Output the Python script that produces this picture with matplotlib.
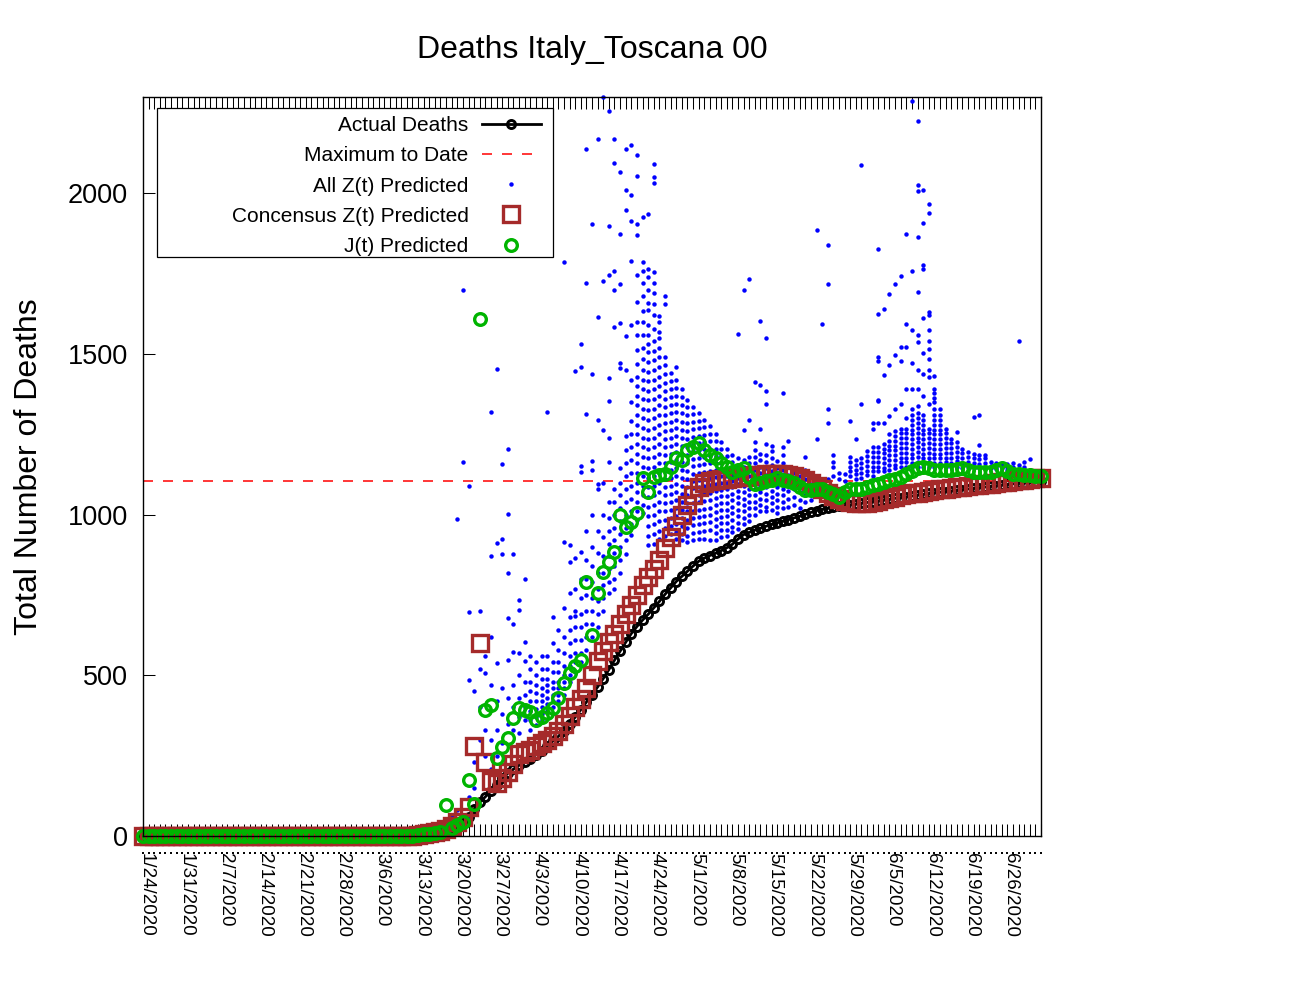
import numpy as np
import matplotlib
matplotlib.use('Agg')
import matplotlib.pyplot as plt
import matplotlib.patches as mpatches
import matplotlib.transforms as mtransforms
from matplotlib.ticker import FixedLocator, MultipleLocator, NullLocator

plt.rcParams['font.family'] = ['Liberation Sans', 'DejaVu Sans']
plt.rcParams['lines.scale_dashes'] = False

# ---------------- data (day 0 = 1/24/2020) ----------------
actual_deaths = [
    0, 0, 0, 0, 0, 0, 0, 0, 0, 0,
    0, 0, 0, 0, 0, 0, 0, 0, 0, 0,
    0, 0, 0, 0, 0, 0, 0, 0, 0, 0,
    0, 0, 0, 0, 0, 0, 0, 0, 0, 0,
    0, 0, 0, 0, 0, 0, 0, 0, 1, 2,
    3, 5, 7, 10, 14, 19, 27, 40, 60, 85,
    105, 122, 140, 160, 180, 195, 208, 220, 231, 241,
    253, 266, 280, 295, 310, 328, 348, 370, 393, 417,
    440, 464, 490, 518, 547, 575, 603, 630, 652, 672,
    690, 710, 730, 752, 772, 792, 808, 824, 840, 855,
    865, 873, 880, 888, 897, 908, 924, 938, 945, 952,
    958, 964, 970, 975, 980, 985, 990, 995, 1001, 1007,
    1013, 1017, 1020, 1023, 1026, 1028, 1031, 1033, 1036, 1038,
    1041, 1043, 1046, 1048, 1051, 1053, 1056, 1058, 1061, 1063,
    1066, 1068, 1070, 1072, 1074, 1076, 1078, 1080, 1082, 1084,
    1086, 1088, 1090, 1092, 1094, 1096, 1098, 1100, 1101, 1103,
    1104,
]

consensus_z = [
    0, 0, 0, 0, 0, 0, 0, 0, 0, 0,
    0, 0, 0, 0, 0, 0, 0, 0, 0, 0,
    0, 0, 0, 0, 0, 0, 0, 0, 0, 0,
    0, 0, 0, 0, 0, 0, 0, 0, 0, 0,
    0, 0, 0, 0, 0, 0, 0, 0, 0, 2,
    5, 8, 12, 16, 22, 30, 45, 60, 90, 280,
    600, 230, 170, 165, 180, 200, 225, 255, 262, 268,
    280, 290, 300, 312, 328, 350, 375, 400, 425, 460,
    500, 545, 575, 605, 630, 660, 690, 720, 750, 780,
    805, 830, 860, 895, 930, 965, 1000, 1030, 1060, 1085,
    1100, 1106, 1108, 1110, 1112, 1114, 1116, 1118, 1120, 1122,
    1125, 1127, 1128, 1128, 1127, 1124, 1120, 1115, 1108, 1100,
    1090, 1080, 1068, 1058, 1050, 1043, 1038, 1035, 1035, 1036,
    1040, 1044, 1048, 1052, 1056, 1060, 1063, 1066, 1069, 1072,
    1075, 1077, 1079, 1081, 1083, 1085, 1087, 1089, 1091, 1093,
    1095, 1097, 1099, 1101, 1103, 1105, 1107, 1109, 1111, 1113,
    1115,
]

j_predicted = [
    0, 0, 0, 0, 0, 0, 0, 0, 0, 0,
    0, 0, 0, 0, 0, 0, 0, 0, 0, 0,
    0, 0, 0, 0, 0, 0, 0, 0, 0, 0,
    0, 0, 0, 0, 0, 0, 0, 0, 0, 0,
    0, 0, 0, 0, 0, 0, 0, 0, 0, 3,
    5, 5, 8, 12, 95, 25, 35, 45, 175, 100,
    1610, 392, 407, 243, 277, 305, 367, 398, 392, 386,
    361, 370, 383, 398, 429, 476, 507, 530, 547, 790,
    625, 756, 821, 852, 883, 998, 961, 977, 1005, 1113,
    1071, 1118, 1122, 1128, 1149, 1175, 1170, 1201, 1210, 1222,
    1201, 1185, 1175, 1160, 1149, 1133, 1138, 1144, 1118, 1097,
    1100, 1104, 1107, 1113, 1107, 1104, 1100, 1087, 1076, 1078,
    1081, 1081, 1071, 1065, 1055, 1071, 1081, 1081, 1081, 1087,
    1092, 1097, 1102, 1107, 1112, 1118, 1128, 1136, 1144, 1149,
    1145, 1138, 1138, 1138, 1140, 1142, 1144, 1138, 1133, 1133,
    1133, 1133, 1138, 1144, 1136, 1128, 1126, 1124, 1123, 1121,
    1120,
]

max_to_date = 1104

z_all_days = [
    55, 56, 57, 58, 59, 60, 61, 62, 63, 64,
    65, 66, 67, 68, 69, 70, 71, 72, 73, 74,
    75, 76, 77, 78, 79, 80, 81, 82, 83, 84,
    85, 86, 87, 88, 89, 90, 91, 92, 93, 94,
    95, 96, 97, 98, 99, 100, 101, 102, 103, 104,
    105, 106, 107, 108, 109, 110, 111, 112, 113, 114,
    115, 116, 117, 118, 119, 120, 121, 122, 123, 124,
    125, 126, 127, 128, 129, 130, 131, 132, 133, 134,
    135, 136, 137, 138, 139, 140, 141, 142, 143, 144,
    145, 146, 147, 148, 149, 150, 151, 152, 153, 154,
    155, 156, 157, 158,
]

z_all_values = [
    [30, 60],
    [986, 80, 45],
    [1698, 1163],
    [1090, 698, 485, 120, 60],
    [450, 230, 150],
    [700, 520, 400, 300],
    [560, 507, 330, 250],
    [1319, 871, 620, 470, 300, 210],
    [1452, 912, 538, 420, 330, 250],
    [1157, 924, 877, 460, 380, 290],
    [1203, 1001, 819, 680, 549, 430, 350],
    [879, 659, 572, 470, 400, 330],
    [734, 704, 569, 500, 430, 370, 320],
    [799, 603, 544, 480, 440, 400, 360],
    [560, 520, 480, 450, 420, 390, 360, 330],
    [540, 500, 470, 445, 420, 395, 370, 345],
    [560, 520, 490, 460, 440, 420, 400, 380, 360],
    [1319, 560, 520, 490, 470, 450, 430, 410, 390],
    [681, 600, 540, 510, 480, 460, 440, 420, 400],
    [640, 580, 540, 510, 480, 460, 440, 420],
    [1787, 914, 709, 620, 570, 530, 500, 480, 460, 440],
    [906, 852, 757, 681, 640, 600, 560, 530, 500, 480],
    [1448, 865, 768, 700, 686, 650, 610, 570, 540, 510],
    [1530, 1460, 1151, 1134, 883, 800, 740, 690, 650, 610, 570, 540],
    [2137, 1722, 1313, 950, 860, 800, 750, 700, 660, 620, 580],
    [1904, 1437, 1168, 1138, 1000, 900, 840, 790, 740, 700, 660, 620],
    [2168, 1614, 1294, 1097, 1079, 950, 880, 820, 770, 730, 690, 650],
    [2300, 1726, 1263, 1100, 1000, 930, 870, 820, 780, 740, 700],
    [2257, 1897, 1745, 1425, 1353, 1239, 1163, 1040, 990, 950, 910, 870, 830, 790, 757],
    [2168, 2096, 1760, 1698, 1585, 1080, 1040, 1000, 960, 920, 880, 840, 800, 769],
    [2068, 1874, 1717, 1597, 1471, 1457, 1144, 1100, 1060, 1020, 980, 940, 900, 860, 817],
    [2137, 2009, 1947, 1555, 1449, 1246, 1200, 1160, 1120, 1080, 1040, 1000, 960, 920, 877],
    [2152, 1995, 1913, 1791, 1589, 1418, 1350, 1293, 1250, 1210, 1170, 1130, 1090, 1050, 1010, 970, 936],
    [2121, 2053, 1904, 1872, 1745, 1661, 1600, 1560, 1513, 1470, 1430, 1400, 1370, 1340, 1310, 1280,
     1250, 1220, 1190, 1160, 1130, 1100, 1070, 1040, 1010, 985],
    [1925, 1786, 1760, 1720, 1680, 1633, 1600, 1558, 1520, 1484, 1450, 1420, 1390, 1360, 1330, 1300,
     1270, 1240, 1210, 1180, 1150, 1120, 1090, 1060, 1030, 1005],
    [1935, 1766, 1740, 1698, 1660, 1636, 1591, 1560, 1530, 1505, 1475, 1445, 1415, 1385, 1356, 1325,
     1295, 1265, 1235, 1205, 1175, 1145, 1115, 1085, 1055, 1025, 995, 965, 935, 905],
    [2093, 2050, 2031, 1755, 1720, 1690, 1656, 1620, 1577, 1540, 1510, 1480, 1450, 1420, 1390, 1360,
     1330, 1300, 1270, 1240, 1210, 1180, 1150, 1120, 1090, 1060, 1030, 1000, 970, 940, 910],
    [1617, 1600, 1570, 1549, 1519, 1490, 1460, 1430, 1400, 1370, 1340, 1310, 1280, 1250, 1220, 1190,
     1160, 1130, 1100, 1070, 1040, 1010, 980, 950, 925],
    [1680, 1657, 1492, 1465, 1437, 1410, 1385, 1360, 1335, 1310, 1285, 1260, 1235, 1210, 1185, 1160,
     1135, 1110, 1085, 1060, 1035, 1010, 985, 960, 935],
    [1440, 1415, 1390, 1365, 1340, 1315, 1290, 1265, 1240, 1215, 1190, 1165, 1140, 1115, 1090, 1065,
     1040, 1015, 990, 965, 940],
    [1460, 1420, 1395, 1370, 1345, 1320, 1295, 1270, 1245, 1220, 1195, 1170, 1145, 1120, 1095, 1070,
     1045, 1020, 995, 970, 945, 925],
    [1390, 1365, 1340, 1315, 1290, 1265, 1240, 1215, 1190, 1165, 1140, 1115, 1090, 1065, 1040, 1015,
     990, 965, 940, 920],
    [1358, 1335, 1310, 1285, 1260, 1235, 1210, 1185, 1160, 1135, 1110, 1085, 1060, 1035, 1010, 985,
     960, 935, 915],
    [1335, 1312, 1289, 1266, 1243, 1220, 1197, 1174, 1151, 1128, 1105, 1082, 1059, 1036, 1013, 990,
     967, 944, 920],
    [1315, 1292, 1269, 1246, 1223, 1200, 1177, 1154, 1131, 1108, 1085, 1062, 1039, 1016, 993, 970,
     947, 925],
    [1295, 1272, 1249, 1226, 1203, 1180, 1157, 1134, 1111, 1088, 1065, 1042, 1019, 996, 973, 950, 925],
    [1275, 1252, 1229, 1206, 1183, 1160, 1137, 1114, 1091, 1068, 1045, 1022, 999, 976, 953, 921],
    [1250, 1228, 1206, 1184, 1162, 1140, 1118, 1096, 1074, 1052, 1030, 1008, 986, 964, 942, 921],
    [1225, 1204, 1183, 1162, 1141, 1120, 1099, 1078, 1057, 1036, 1015, 994, 973, 952, 930],
    [1205, 1184, 1163, 1142, 1121, 1100, 1079, 1058, 1037, 1016, 995, 974, 953, 935],
    [1185, 1165, 1145, 1125, 1105, 1085, 1065, 1045, 1025, 1005, 985, 963, 945],
    [1561, 1175, 1155, 1135, 1115, 1095, 1075, 1055, 1035, 1015, 995, 975, 955],
    [1698, 1263, 1170, 1150, 1130, 1110, 1090, 1070, 1050, 1030, 1010, 990, 970],
    [1735, 1296, 1180, 1160, 1140, 1120, 1100, 1080, 1060, 1040, 1020, 1000, 980],
    [1412, 1225, 1200, 1180, 1160, 1140, 1120, 1100, 1080, 1060, 1040, 1020, 1000],
    [1602, 1403, 1268, 1190, 1170, 1150, 1130, 1110, 1090, 1070, 1050, 1030, 1010],
    [1551, 1384, 1344, 1219, 1185, 1165, 1145, 1125, 1105, 1085, 1065, 1045, 1025, 1010],
    [1213, 1198, 1175, 1155, 1135, 1115, 1095, 1075, 1055, 1035, 1015],
    [1166, 1145, 1125, 1105, 1085, 1065, 1045, 1025, 1005],
    [1380, 1210, 1185, 1160, 1140, 1120, 1100, 1080, 1060, 1040, 1020],
    [1230, 1150, 1125, 1100, 1075, 1050, 1025],
    [1130, 1105, 1080, 1055, 1030],
    [1120, 1095, 1070, 1045, 1020],
    [1180, 1140, 1110, 1085, 1060, 1040],
    [1120, 1095, 1070, 1045],
    [1885, 1237, 1100, 1080, 1060],
    [1595, 1100, 1080],
    [1838, 1719, 1330, 1284, 1110, 1090],
    [1185, 1165, 1148, 1120],
    [1130, 1110],
    [1127, 1105],
    [1292, 1180, 1165, 1150, 1135, 1120],
    [1237, 1170, 1155, 1140, 1127, 1110],
    [2087, 1344, 1175, 1160, 1145, 1130, 1115],
    [1197, 1182, 1167, 1152, 1137, 1122],
    [1284, 1268, 1210, 1195, 1180, 1165, 1150, 1137, 1120],
    [1826, 1626, 1491, 1477, 1356, 1353, 1284, 1210, 1195, 1180, 1165, 1150, 1137],
    [1639, 1434, 1284, 1221, 1206, 1191, 1176, 1161, 1146, 1137],
    [1688, 1467, 1306, 1250, 1230, 1215, 1200, 1185, 1170, 1155, 1140],
    [1719, 1496, 1330, 1260, 1245, 1230, 1215, 1200, 1185, 1170, 1155, 1145],
    [1742, 1522, 1477, 1346, 1268, 1253, 1238, 1223, 1208, 1193, 1178, 1163, 1148],
    [1875, 1595, 1522, 1392, 1300, 1268, 1253, 1238, 1223, 1208, 1193, 1178, 1163, 1150],
    [2289, 1760, 1574, 1473, 1392, 1330, 1310, 1295, 1280, 1265, 1250, 1235, 1220, 1205, 1190, 1175,
     1160, 1150],
    [2224, 2025, 2008, 1865, 1694, 1558, 1538, 1449, 1392, 1337, 1315, 1300, 1285, 1270, 1255, 1240,
     1225, 1210, 1195, 1180, 1165, 1150],
    [2011, 1909, 1778, 1766, 1613, 1503, 1438, 1370, 1310, 1295, 1280, 1265, 1250, 1235, 1220, 1205,
     1190, 1175, 1160, 1150],
    [1968, 1940, 1631, 1621, 1576, 1540, 1517, 1486, 1451, 1428, 1346, 1268, 1253, 1238, 1223, 1208,
     1193, 1178, 1163, 1150],
    [1433, 1392, 1378, 1364, 1350, 1330, 1310, 1295, 1280, 1265, 1250, 1235, 1220, 1205, 1190, 1175,
     1160, 1150],
    [1330, 1310, 1295, 1280, 1265, 1250, 1235, 1220, 1205, 1190, 1175, 1160, 1148],
    [1268, 1253, 1238, 1223, 1208, 1193, 1178, 1163, 1148],
    [1237, 1222, 1207, 1192, 1177, 1162, 1148],
    [1258, 1226, 1211, 1196, 1181, 1166, 1150],
    [1206, 1191, 1176, 1161, 1146],
    [1195, 1180, 1165, 1150],
    [1304, 1190, 1175, 1160, 1146],
    [1311, 1218, 1187, 1172, 1158, 1146],
    [1187, 1175, 1160, 1146],
    [1164, 1152, 1144],
    [1160, 1150, 1142],
    [1155, 1145],
    [1158, 1148, 1140],
    [1160, 1150, 1140],
    [1540, 1154, 1140],
    [1164, 1150],
    [1172, 1140],
]

tick_days = [0, 7, 14, 21, 28, 35, 42, 49, 56, 63, 70, 77, 84, 91, 98, 105,
             112, 119, 126, 133, 140, 147, 154]
tick_labels = ["1/24/2020", "1/31/2020", "2/7/2020", "2/14/2020", "2/21/2020",
               "2/28/2020", "3/6/2020", "3/13/2020", "3/20/2020", "3/27/2020",
               "4/3/2020", "4/10/2020", "4/17/2020", "4/24/2020", "5/1/2020",
               "5/8/2020", "5/15/2020", "5/22/2020", "5/29/2020", "6/5/2020",
               "6/12/2020", "6/19/2020", "6/26/2020"]
y_ticks = [0, 500, 1000, 1500, 2000]

# ---------------- figure ----------------
days = np.arange(len(actual_deaths))
bx = [d for d, vals in zip(z_all_days, z_all_values) for _ in vals]
by = [v for vals in z_all_values for v in vals]

fig = plt.figure(figsize=(13, 10), dpi=100)
ax = fig.add_axes([0.110, 0.164, 0.6908, 0.739])

ax.plot(days, actual_deaths, color='black', lw=2, marker='o', ms=5.8,
        mfc='none', mec='black', mew=2.1, clip_on=False, label='Actual Deaths')
ax.axhline(max_to_date, color='#ff0000', lw=1.1, dashes=(7.2, 7.2),
           label='Maximum to Date')
ax.plot(bx, by, ls='none', marker='o', ms=3.2, color='#0000ff', mew=0,
        clip_on=False, label='All Z(t) Predicted')
ax.plot(days, consensus_z, ls='none', marker='s', ms=12, mfc='none',
        mec='#a52a2a', mew=2.4, clip_on=False, label='Concensus Z(t) Predicted')
ax.plot(days, j_predicted, ls='none', marker='o', ms=8.4, mfc='none',
        mec='#00b400', mew=2.4, clip_on=False, label='J(t) Predicted')

ax.set_xlim(0, 160)
ax.set_ylim(0, 2300)

ax.set_xticks(tick_days)
ax.set_xticklabels(tick_labels, rotation=-90, ha='center', va='top', fontsize=13.5)
ax.xaxis.set_minor_locator(MultipleLocator(1))
ax.tick_params(axis='x', which='both', direction='in', length=8.6, width=0.75,
               top=True, bottom=True, pad=12.5)
ax.set_yticks(y_ticks)
ax.tick_params(axis='y', which='both', direction='in', length=8.6, width=0.75,
               left=True, right=False, labelsize=19.5, pad=10.8)
for sp in ax.spines.values():
    sp.set_linewidth(1.0)

offset = mtransforms.ScaledTranslation(3.5 / 100, 0, fig.dpi_scale_trans)
for lab in ax.get_xticklabels():
    lab.set_transform(lab.get_transform() + offset)

# dotted row below the axis (gnuplot style)
sec = ax.secondary_xaxis(-0.023)
sec.xaxis.set_major_locator(NullLocator())
sec.xaxis.set_minor_locator(MultipleLocator(1))
for sp in sec.spines.values():
    sp.set_visible(False)
sec.tick_params(which='minor', direction='inout', length=1.4, width=1.4, color='black')

ax.set_title('Deaths Italy_Toscana 00', fontsize=23, pad=28)
ax.set_ylabel('Total Number of Deaths', fontsize=23)
ax.yaxis.set_label_coords(-0.110, 0.5)

# legend box
box = mpatches.Rectangle((0.0156, 0.7835), 0.441, 0.2016, transform=ax.transAxes,
                         facecolor='white', edgecolor='black', lw=0.9, zorder=4)
ax.add_patch(box)
leg = ax.legend(loc='upper right', bbox_to_anchor=(0.4566, 0.9905), borderaxespad=0,
                markerfirst=False, numpoints=1, fontsize=15, frameon=False,
                handlelength=2.85, handletextpad=0.63, borderpad=0.576,
                labelspacing=0.54)
leg.set_zorder(5)

fig.savefig('out.png', dpi=100)
